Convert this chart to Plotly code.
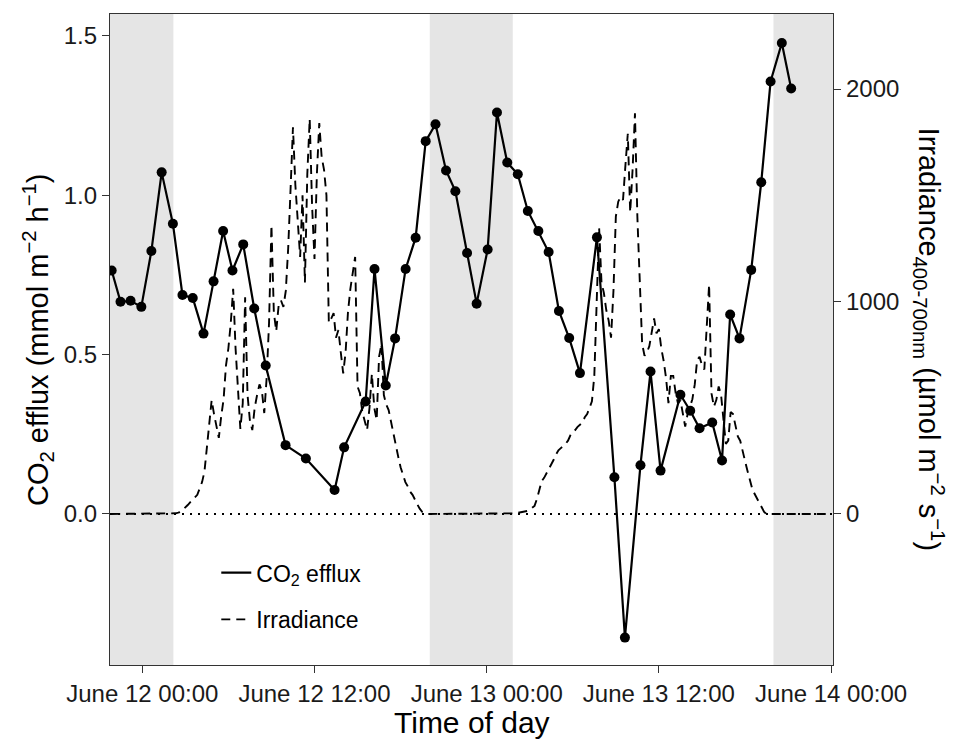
import pandas as pd
import plotly.graph_objects as go

# ---------------- data ----------------
co2_time = [
    "2015-06-11 21:52", "2015-06-11 22:29", "2015-06-11 23:11", "2015-06-11 23:56",
    "2015-06-12 00:38", "2015-06-12 01:21", "2015-06-12 02:08", "2015-06-12 02:48",
    "2015-06-12 03:31", "2015-06-12 04:16", "2015-06-12 04:58", "2015-06-12 05:38",
    "2015-06-12 06:17", "2015-06-12 07:02", "2015-06-12 07:48", "2015-06-12 08:36",
    "2015-06-12 09:59", "2015-06-12 11:24", "2015-06-12 13:24", "2015-06-12 14:04",
    "2015-06-12 15:34", "2015-06-12 16:11", "2015-06-12 16:58", "2015-06-12 17:37",
    "2015-06-12 18:21", "2015-06-12 19:03", "2015-06-12 19:45", "2015-06-12 20:26",
    "2015-06-12 21:10", "2015-06-12 21:49", "2015-06-12 22:38", "2015-06-12 23:18",
    "2015-06-13 00:04", "2015-06-13 00:43", "2015-06-13 01:26", "2015-06-13 02:10",
    "2015-06-13 02:52", "2015-06-13 03:36", "2015-06-13 04:19", "2015-06-13 05:02",
    "2015-06-13 05:45", "2015-06-13 06:30", "2015-06-13 07:41", "2015-06-13 08:54",
    "2015-06-13 09:38", "2015-06-13 10:43", "2015-06-13 11:25", "2015-06-13 12:07",
    "2015-06-13 13:30", "2015-06-13 14:11", "2015-06-13 14:50", "2015-06-13 15:43",
    "2015-06-13 16:24", "2015-06-13 16:58", "2015-06-13 17:37", "2015-06-13 18:26",
    "2015-06-13 19:08", "2015-06-13 19:47", "2015-06-13 20:34", "2015-06-13 21:13",
]
co2_efflux = [
    0.764, 0.666, 0.669, 0.650, 0.825, 1.072, 0.911, 0.687, 0.678, 0.566,
    0.730, 0.888, 0.764, 0.846, 0.645, 0.466, 0.216, 0.174, 0.075, 0.209,
    0.353, 0.769, 0.403, 0.551, 0.769, 0.867, 1.170, 1.223, 1.078, 1.013,
    0.819, 0.660, 0.830, 1.260, 1.103, 1.066, 0.951, 0.888, 0.822, 0.637,
    0.552, 0.442, 0.868, 0.115, -0.388, 0.153, 0.447, 0.136, 0.374, 0.324,
    0.269, 0.287, 0.168, 0.626, 0.551, 0.766, 1.041, 1.357, 1.478, 1.335,
]

# irradiance logged every 10 min from 2015-06-11 21:50 to 2015-06-14 00:00
irr_start = "2015-06-11 21:50"
irr_end = "2015-06-14 00:00"
irr_night1 = [0, 0, 0, 0, 0, 0, 0, 0, 0, 0, 0, 0, 0, 0, 0, 0, 0, 0, 0, 0, 0, 0, 0, 0, 0, 0]
irr_day1 = [
    0, 3, 6, 10, 20, 30, 42, 55, 68, 80,
    90, 120, 150, 200, 320, 440, 536, 470, 420, 358,
    460, 540, 700, 780, 900, 1060, 780, 600, 400, 520,
    1020, 560, 440, 395, 500, 560, 610, 580, 475, 640,
    900, 1360, 950, 860, 980, 1005, 975, 1050, 1250, 1530,
    1820, 1550, 1390, 1210, 1500, 1090, 1600, 1860, 1450, 1200,
    1600, 1840, 1680, 1620, 1500, 900, 920, 945, 830, 866,
    760, 662, 760, 950, 1060, 1133, 1210, 600, 568, 480,
    430, 395, 500, 660, 500, 442, 740, 800, 560, 515,
    489, 430, 370, 320, 270, 220, 185, 150, 130, 105,
    90, 65, 45, 25, 10, 4, 0, 0,
]
irr_night2 = [0, 0, 0, 0, 0, 0, 0, 0, 0, 0, 0, 0, 0, 0, 0, 0, 0,
              0, 0, 0, 0, 0, 0, 0, 0, 0, 0, 0, 0, 0, 0, 0, 0, 0]
irr_day2 = [
    0, 3, 5, 7, 9, 11, 14, 20, 28, 38,
    70, 115, 155, 170, 190, 210, 230, 255, 280, 300,
    310, 320, 330, 345, 370, 385, 395, 410, 420, 430,
    455, 470, 500, 530, 650, 980, 1350, 1090, 1040, 960,
    910, 830, 1050, 1400, 1470, 1493, 1478, 1640, 1790, 1420,
    1620, 1886, 1400, 1100, 800, 745, 760, 790, 860, 920,
    850, 870, 780, 720, 640, 521, 650, 650, 570, 520,
    536, 480, 411, 470, 500, 540, 610, 725, 740, 700,
    680, 900, 1080, 568, 505, 536, 600, 560, 450, 330,
    345, 480, 470, 410, 365, 345, 290, 250, 205, 160,
    120, 95, 72, 50, 30, 10, 0, 0, 0, 0,
]
irr_night3 = [0, 0, 0, 0, 0, 0, 0, 0, 0, 0, 0, 0, 0, 0, 0, 0, 0, 0, 0, 0, 0, 0, 0, 0]

night_start = ["2015-06-11 21:45", "2015-06-12 20:02", "2015-06-13 19:59"]
night_end = ["2015-06-12 02:10", "2015-06-13 01:49", "2015-06-14 00:08"]

x_range = ["2015-06-11 21:45", "2015-06-14 00:08"]
x_tickvals = ["2015-06-12 00:00", "2015-06-12 12:00", "2015-06-13 00:00",
              "2015-06-13 12:00", "2015-06-14 00:00"]
x_ticktext = ["June 12 00:00", "June 12 12:00", "June 13 00:00",
              "June 13 12:00", "June 14 00:00"]
co2_tickvals = [0.0, 0.5, 1.0, 1.5]
irr_tickvals = [0, 1000, 2000]
co2_range = [-0.474, 1.569]
irr_scale = 1500  # secondary axis = CO2 axis * 1500

irr_time = pd.date_range(irr_start, irr_end, freq="10min")
irradiance = irr_night1 + irr_day1 + irr_night2 + irr_day2 + irr_night3

# ---------------- figure ----------------
FONT = "Liberation Sans, Arial, sans-serif"
AX = "#333333"

fig = go.Figure()
fig.add_trace(go.Scatter(
    x=co2_time, y=co2_efflux, mode="lines", name="CO<sub>2</sub> efflux",
    line=dict(color="black", width=2.2),
    yaxis="y2", legendgroup="a", legendrank=1,
))
fig.add_trace(go.Scatter(
    x=irr_time, y=irradiance, mode="lines", name="Irradiance",
    line=dict(color="black", width=1.9, dash="9px,6px"),
    yaxis="y", legendgroup="b", legendrank=2,
))
fig.add_trace(go.Scatter(
    x=co2_time, y=co2_efflux, mode="markers", showlegend=False,
    marker=dict(color="black", size=10),
    yaxis="y2", legendgroup="a",
))

shapes = []
for s, e in zip(night_start, night_end):
    shapes.append(dict(type="rect", xref="x", yref="paper", x0=s, x1=e, y0=0, y1=1,
                       fillcolor="#E5E5E5", line=dict(width=0), layer="below"))
shapes.append(dict(type="line", xref="paper", yref="y2", x0=0, x1=1, y0=0, y1=0,
                   line=dict(color="black", width=2, dash="2px,6px"), layer="below"))

axis_common = dict(showgrid=False, zeroline=False, showline=True, linecolor=AX,
                   linewidth=1.3, ticks="outside", ticklen=7, tickwidth=1.3,
                   tickcolor=AX, tickfont=dict(size=24, color="#1a1a1a", family=FONT))

fig.update_layout(
    width=954, height=740,
    margin=dict(l=110, r=121, t=14, b=75),
    paper_bgcolor="white", plot_bgcolor="white",
    font=dict(family=FONT, color="black"),
    xaxis=dict(type="date", range=x_range, tickvals=x_tickvals, ticktext=x_ticktext,
               mirror=True, **axis_common),
    yaxis=dict(side="right", range=[co2_range[0] * irr_scale, co2_range[1] * irr_scale],
               tickvals=irr_tickvals, **axis_common),
    yaxis2=dict(side="left", overlaying="y", range=co2_range, tickvals=co2_tickvals,
                tickformat=".1f", **axis_common),
    shapes=shapes,
    showlegend=True,
    legend=dict(x=0.147, y=0.175, xanchor="left", yanchor="top",
                bgcolor="rgba(0,0,0,0)", font=dict(size=23, family=FONT),
                tracegroupgap=14, itemwidth=30, traceorder="grouped"),
    annotations=[
        dict(text="CO<sub>2</sub> efflux (mmol m<sup>−2</sup> h<sup>−1</sup>)",
             xref="paper", yref="paper", x=-0.1002, y=0.5, textangle=-90,
             xanchor="center", yanchor="middle", showarrow=False,
             font=dict(size=29, family=FONT)),
        dict(text="Irradiance<sub>400-700nm</sub> (µmol m<sup>−2</sup> s<sup>−1</sup>)",
             xref="paper", yref="paper", x=1.134, y=0.5, textangle=90,
             xanchor="center", yanchor="middle", showarrow=False,
             font=dict(size=29, family=FONT)),
        dict(text="Time of day", xref="paper", yref="paper", x=0.5, y=-0.0876,
             xanchor="center", yanchor="middle", showarrow=False,
             font=dict(size=30, family=FONT)),
    ],
)

fig.write_html("out.html")
